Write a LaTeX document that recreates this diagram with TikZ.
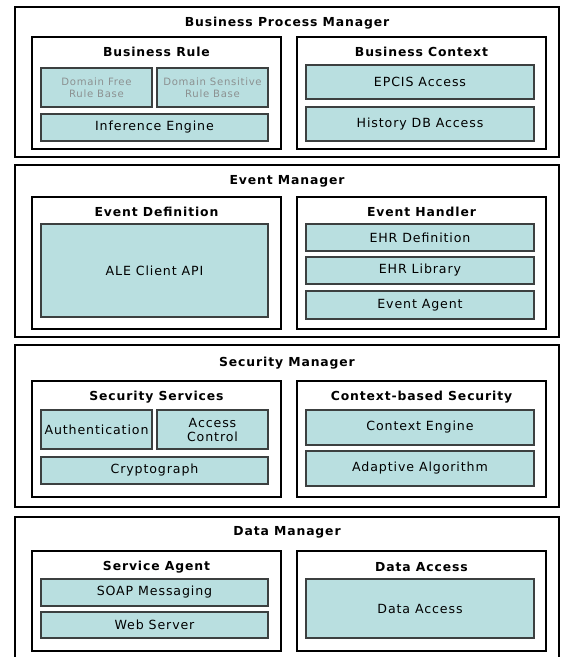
\documentclass[tikz,border=0pt]{standalone}
\usepackage{fontspec}
\setmainfont{DejaVu Sans}[LetterSpace=7]
\usepackage{xcolor}
\usepackage{tikz}

\definecolor{partfill}{RGB}{185,223,224}
\definecolor{partline}{RGB}{60,64,64}
\definecolor{dimtext}{RGB}{140,145,145}

\tikzset{
    layerbox/.style={draw=black, line width=1.4pt, fill=white, minimum width=544pt, inner sep=0pt},
    groupbox/.style={draw=black, line width=1.1pt, fill=white, minimum width=249pt, inner sep=0pt},
    partbox/.style={draw=partline, line width=1.2pt, fill=partfill, inner sep=0pt, align=center, font=\fontsize{12.6}{14}\selectfont},
    layertitle/.style={font=\fontsize{12.4}{14}\selectfont\bfseries, inner sep=0pt},
    grouptitle/.style={font=\fontsize{12.4}{14}\selectfont\bfseries, inner sep=0pt},
    dimpart/.style={partbox, text=dimtext, font=\fontsize{10.1}{11.5}\selectfont}
}

\begin{document}
\begin{tikzpicture}[x=1pt, y=-1pt]
    \useasboundingbox (0,0) rectangle (561,657);
    \clip (0,0) rectangle (561,657);

    % layers
    \node[layerbox, minimum height=150pt] (bpm) at (287,82) {};
    \node[layerbox, minimum height=172pt] (evm) at (287,251) {};
    \node[layerbox, minimum height=162pt] (sem) at (287,426) {};
    \node[layerbox, minimum height=153pt] (dam) at (287,593.5) {};
    \node[layertitle] (bpmtitle) at (287,23) {Business Process Manager};
    \node[layertitle] (evmtitle) at (287,181) {Event Manager};
    \node[layertitle] (semtitle) at (287,363) {Security Manager};
    \node[layertitle] (damtitle) at (287,532) {Data Manager};

    % groups
    \node[groupbox, minimum height=112pt] (rule) at (156.5,93) {};
    \node[groupbox, minimum height=112pt] (context) at (421.5,93) {};
    \node[groupbox, minimum height=132pt] (evdef) at (156.5,263) {};
    \node[groupbox, minimum height=132pt] (evhandler) at (421.5,263) {};
    \node[groupbox, minimum height=116pt] (secserv) at (156.5,439) {};
    \node[groupbox, minimum height=116pt] (ctxsec) at (421.5,439) {};
    \node[groupbox, minimum height=100pt] (agent) at (156.5,601) {};
    \node[groupbox, minimum height=100pt] (access) at (421.5,601) {};
    \node[grouptitle] (ruletitle) at (156.5,52) {Business Rule};
    \node[grouptitle] (contexttitle) at (421.5,52) {Business Context};
    \node[grouptitle] (evdeftitle) at (156.5,212) {Event Definition};
    \node[grouptitle] (evhandlertitle) at (421.5,212) {Event Handler};
    \node[grouptitle] (secservtitle) at (156.5,397) {Security Services};
    \node[grouptitle] (ctxsectitle) at (421.5,397) {Context-based Security};
    \node[grouptitle] (agenttitle) at (156.5,567) {Service Agent};
    \node[grouptitle] (accesstitle) at (421.5,567) {Data Access};

    % business process manager
    \node[dimpart, minimum width=111pt, minimum height=39pt] (domfree) at (96.5,87.5) {Domain Free\\Rule Base};
    \node[dimpart, minimum width=111pt, minimum height=39pt] (domsens) at (212.5,87.5) {Domain Sensitive\\Rule Base};
    \node[partbox, minimum width=227pt, minimum height=27pt] (inference) at (154.5,127.5) {Inference Engine};
    \node[partbox, minimum width=228pt, minimum height=34pt] (epcis) at (420,82) {EPCIS Access};
    \node[partbox, minimum width=228pt, minimum height=34pt] (history) at (420,124) {History DB Access};

    % event manager
    \node[partbox, minimum width=227pt, minimum height=93pt] (aleapi) at (154.5,270.5) {ALE Client API};
    \node[partbox, minimum width=228pt, minimum height=27pt] (ehrdef) at (420,237.5) {EHR Definition};
    \node[partbox, minimum width=228pt, minimum height=27pt] (ehrlib) at (420,270.5) {EHR Library};
    \node[partbox, minimum width=228pt, minimum height=28pt] (evagent) at (420,305) {Event Agent};

    % security manager
    \node[partbox, minimum width=111pt, minimum height=39pt] (authent) at (96.5,429.5) {Authentication};
    \node[partbox, minimum width=111pt, minimum height=39pt] (acccontrol) at (212.5,429.5) {Access\\Control};
    \node[partbox, minimum width=227pt, minimum height=27pt] (crypto) at (154.5,470.5) {Cryptograph};
    \node[partbox, minimum width=228pt, minimum height=35pt] (ctxengine) at (420,427.5) {Context Engine};
    \node[partbox, minimum width=228pt, minimum height=35pt] (adaptive) at (420,468.5) {Adaptive Algorithm};

    % data manager
    \node[partbox, minimum width=227pt, minimum height=27pt] (soap) at (154.5,592.5) {SOAP Messaging};
    \node[partbox, minimum width=227pt, minimum height=26pt] (webserver) at (154.5,625) {Web Server};
    \node[partbox, minimum width=228pt, minimum height=59pt] (dataaccess) at (420,608.5) {Data Access};
\end{tikzpicture}
\end{document}
